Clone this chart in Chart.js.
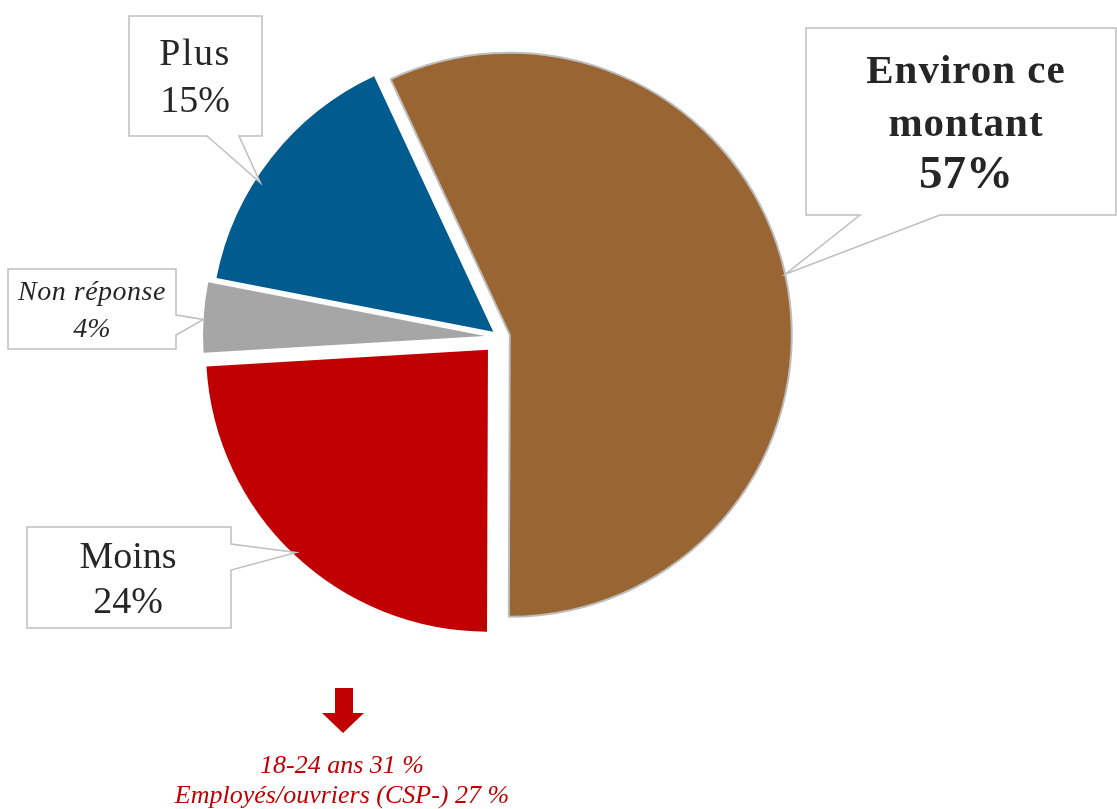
<!DOCTYPE html>
<html lang="fr">
<head>
<meta charset="utf-8">
<title>Montant</title>
<script src="https://cdn.jsdelivr.net/npm/chart.js@4.4.1/dist/chart.umd.min.js"></script>
<style>
	html, body { margin: 0; padding: 0; background: #ffffff; }
	#wrap { position: relative; width: 1117px; height: 809px; }
</style>
</head>
<body>
<div id="wrap"><canvas id="montantPie"></canvas></div>
<script>
const categories = ['Environ ce montant', 'Moins', 'Non réponse', 'Plus'];
const shares = [57, 24, 4, 15];
const colors = ['#996633', '#C00000', '#A6A6A6', '#005B8F'];
const detailLines = ['18-24 ans 31 %', 'Employés/ouvriers (CSP-) 27 %'];

// how far each slice is pulled out of the pie, in px
const explode = [10, 17.5, 15, 8.5];

// callout boxes: rectangle, pointer base on one side, where on the arc the pointer lands
const callouts = [
	{ box: [806, 28, 310, 187], side: 'bottom', base: [860, 940], at: 0.5, depth: 1.0,
		lines: [
			{ text: 'Environ ce', font: 'bold 41px "Liberation Serif"', y: 83, spacing: '1px' },
			{ text: 'montant', font: 'bold 41px "Liberation Serif"', y: 136, spacing: '1px' },
			{ text: '57%', font: 'bold 47px "Liberation Serif"', y: 188 }
		], cx: 966 },
	{ box: [27, 527, 204, 101], side: 'right', base: [544, 570], at: 0.5, depth: 0.99,
		lines: [
			{ text: 'Moins', font: '38px "Liberation Serif"', y: 568 },
			{ text: '24%', font: '38px "Liberation Serif"', y: 613 }
		], cx: 128 },
	{ box: [8, 269, 168, 80], side: 'right', base: [315, 335], at: 0.47, depth: 1.0,
		lines: [
			{ text: 'Non réponse', font: 'italic 28px "Liberation Serif"', y: 300, spacing: '0.5px' },
			{ text: '4%', font: 'italic 28px "Liberation Serif"', y: 337 }
		], cx: 92 },
	{ box: [129, 16, 133, 120], side: 'bottom', base: [207, 239], at: 0.4, depth: 0.98,
		lines: [
			{ text: 'Plus', font: '38px "Liberation Serif"', y: 65, spacing: '1.5px' },
			{ text: '15%', font: '38px "Liberation Serif"', y: 112 }
		], cx: 195 }
];

// pull slices out by translating them, without growing their radius
const arcDraw = Chart.ArcElement.prototype.draw;
Chart.ArcElement.prototype.draw = function(ctx) {
	const d = this.$explode || 0;
	if (!d) {
		return arcDraw.call(this, ctx);
	}
	const mid = (this.startAngle + this.endAngle) / 2;
	ctx.save();
	ctx.translate(Math.cos(mid) * d, Math.sin(mid) * d);
	arcDraw.call(this, ctx);
	ctx.restore();
};

function arcShift(el) {
	const d = el.$explode || 0;
	const mid = (el.startAngle + el.endAngle) / 2;
	return { dx: Math.cos(mid) * d, dy: Math.sin(mid) * d };
}

const calloutPlugin = {
	id: 'callouts',
	afterDatasetUpdate(chart, args) {
		chart.getDatasetMeta(args.index).data.forEach(function(el, i) {
			el.$explode = explode[i] || 0;
		});
	},
	afterDatasetsDraw(chart) {
		const ctx = chart.ctx;
		const arcs = chart.getDatasetMeta(0).data;
		ctx.save();
		callouts.forEach(function(c, i) {
			const el = arcs[i];
			const s = arcShift(el);
			const a = el.startAngle + c.at * (el.endAngle - el.startAngle);
			const r = el.outerRadius * c.depth;
			const tx = el.x + s.dx + Math.cos(a) * r;
			const ty = el.y + s.dy + Math.sin(a) * r;
			const [x, y, w, h] = c.box;

			ctx.beginPath();
			ctx.moveTo(x, y);
			ctx.lineTo(x + w, y);
			if (c.side === 'right') {
				ctx.lineTo(x + w, c.base[0]);
				ctx.lineTo(tx, ty);
				ctx.lineTo(x + w, c.base[1]);
				ctx.lineTo(x + w, y + h);
				ctx.lineTo(x, y + h);
			} else {
				ctx.lineTo(x + w, y + h);
				ctx.lineTo(c.base[1], y + h);
				ctx.lineTo(tx, ty);
				ctx.lineTo(c.base[0], y + h);
				ctx.lineTo(x, y + h);
			}
			ctx.closePath();
			ctx.fillStyle = '#ffffff';
			ctx.fill();
			ctx.strokeStyle = '#BFBFBF';
			ctx.lineWidth = 1.5;
			ctx.stroke();

			ctx.fillStyle = '#262626';
			ctx.textAlign = 'center';
			ctx.textBaseline = 'alphabetic';
			c.lines.forEach(function(l) {
				ctx.font = l.font;
				ctx.letterSpacing = l.spacing || '0px';
				ctx.fillText(l.text, c.cx, l.y);
			});
			ctx.letterSpacing = '0px';
		});

		// red arrow pointing to the detail under "Moins"
		ctx.fillStyle = '#C00000';
		ctx.beginPath();
		ctx.moveTo(335, 688);
		ctx.lineTo(353, 688);
		ctx.lineTo(353, 713);
		ctx.lineTo(364, 713);
		ctx.lineTo(343, 733);
		ctx.lineTo(322, 713);
		ctx.lineTo(335, 713);
		ctx.closePath();
		ctx.fill();

		ctx.font = 'italic 26px "Liberation Serif"';
		ctx.textAlign = 'center';
		ctx.fillText(detailLines[0], 342, 773);
		ctx.fillText(detailLines[1], 342, 803);
		ctx.restore();
	}
};

const ctx = document.getElementById('montantPie').getContext('2d');
const chart = new Chart(ctx, {
	type: 'pie',
	data: {
		labels: categories,
		datasets: [
			{
				data: shares,
				backgroundColor: colors,
				borderColor: ['#BDBDBD', '#ffffff', '#ffffff', '#ffffff'],
				borderWidth: [2, 0, 0, 0]
			}
		]
	},
	options: {
		responsive: true,
		maintainAspectRatio: false,
		animation: false,
		rotation: -25,
		radius: 282,
		layout: { padding: { left: 0, right: 117, top: 0, bottom: 135 } },
		plugins: {
			legend: { display: false },
			tooltip: { enabled: false }
		}
	},
	plugins: [calloutPlugin]
});
</script>
</body>
</html>
